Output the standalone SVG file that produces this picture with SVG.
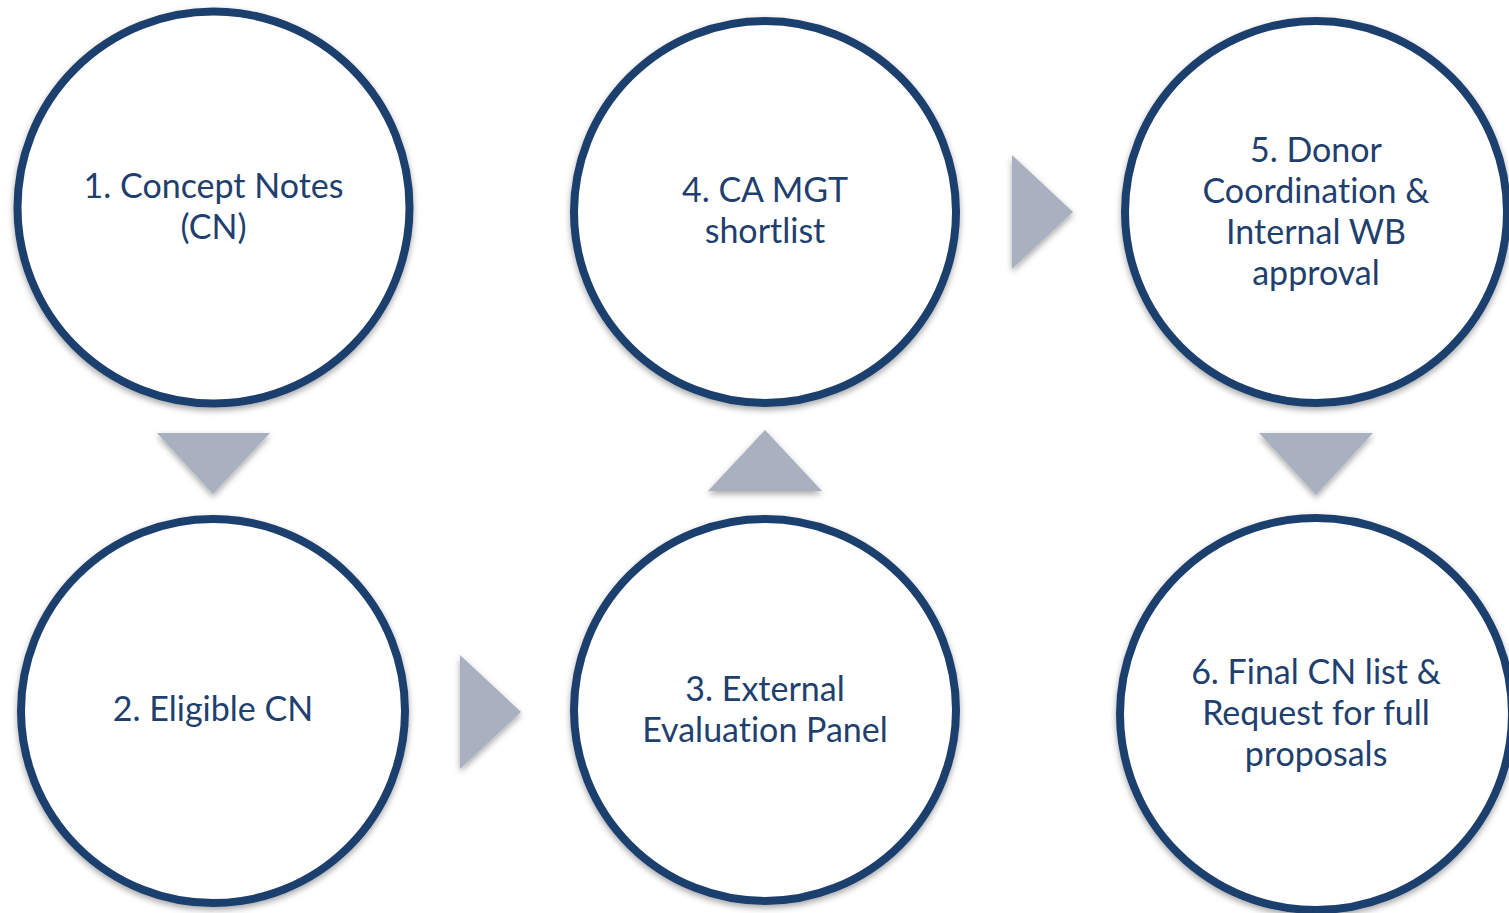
<svg xmlns="http://www.w3.org/2000/svg" width="1509" height="913" viewBox="0 0 1509 913">
<defs>
<filter id="sh" x="-20%" y="-20%" width="140%" height="140%">
<feDropShadow dx="0" dy="3" stdDeviation="3" flood-color="#000" flood-opacity="0.35"/>
</filter>
<style>
.node circle{fill:#fff;stroke:#1F3F6E;stroke-width:8;filter:url(#sh)}
.node text{font-family:Lato,"Open Sans",sans-serif;font-size:34px;fill:#1F3F6E;text-anchor:middle;font-variant-ligatures:none}
.arr{fill:#A9B0BF;filter:url(#sh)}
</style>
</defs>
<rect width="1509" height="913" fill="#fff"/>
<g id="connectors">
<polygon class="arr" points="157,433 270,433 213,494"/>
<polygon class="arr" points="460,655 460,769 521,712"/>
<polygon class="arr" points="708,491 822,491 765,430"/>
<polygon class="arr" points="1012,155 1012,269 1073,212"/>
<polygon class="arr" points="1259,433 1373,433 1316,495"/>
</g>
<g id="n1" class="node"><circle cx="213.5" cy="207.5" r="196"/>
<text x="213.5" y="198">1. Concept Notes</text><text x="213.5" y="239">(CN)</text></g>
<g id="n2" class="node"><circle cx="213" cy="711" r="192"/>
<text x="213" y="721">2. Eligible CN</text></g>
<g id="n3" class="node"><circle cx="765" cy="710" r="191"/>
<text x="765" y="701">3. External</text><text x="765" y="742">Evaluation Panel</text></g>
<g id="n4" class="node"><circle cx="765" cy="212" r="191"/>
<text x="765" y="202">4. CA MGT</text><text x="765" y="243">shortlist</text></g>
<g id="n5" class="node"><circle cx="1316" cy="212" r="191"/>
<text x="1316" y="162">5. Donor</text><text x="1316" y="203">Coordination &amp;</text><text x="1316" y="244">Internal WB</text><text x="1316" y="285">approval</text></g>
<g id="n6" class="node"><circle cx="1316" cy="714" r="196"/>
<text x="1316" y="684">6. Final CN list &amp;</text><text x="1316" y="725">Request for full</text><text x="1316" y="766">proposals</text></g>
</svg>
